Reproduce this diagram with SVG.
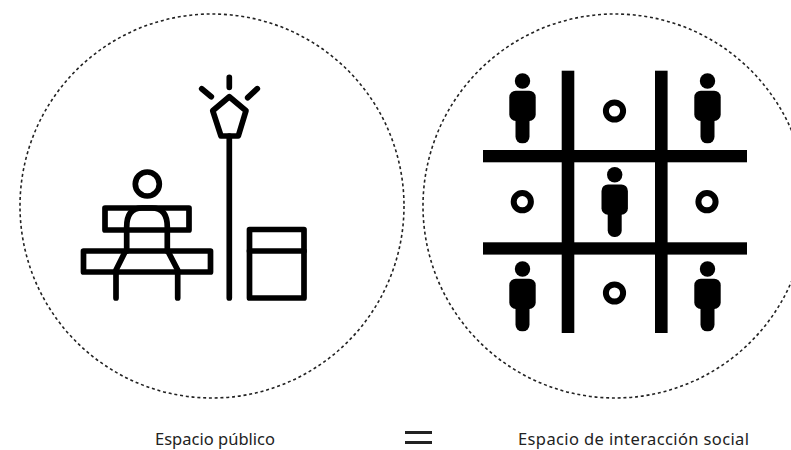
<svg xmlns="http://www.w3.org/2000/svg" width="791" height="450" viewBox="0 0 791 450">
<style>
.dot{fill:none;stroke:#222;stroke-width:1.6;stroke-dasharray:3 2.8}
.ln{fill:none;stroke:#000;stroke-width:5.7;stroke-linecap:round;stroke-linejoin:round}
.ring{fill:none;stroke:#000;stroke-width:6}
.lab{font-family:"Noto Sans","Open Sans",sans-serif;font-size:16.5px;fill:#222}
</style>
<defs>
<g id="person">
<circle cx="0" cy="0" r="7.7"/>
<rect x="-13.2" y="9.7" width="26.4" height="30.3" rx="6.5"/>
<rect x="-7" y="25" width="14" height="37.3" rx="6.5"/>
</g>
</defs>
<rect width="791" height="450" fill="#fff"/>
<g id="circulo-publico"><circle class="dot" cx="212" cy="206" r="192"/></g>
<g id="circulo-social"><circle class="dot" cx="615" cy="206" r="192"/></g>
<g id="banco">
<circle class="ln" cx="147.3" cy="184" r="12"/>
<rect class="ln" x="105" y="208" width="84" height="22"/>
<rect class="ln" x="83.5" y="251" width="127" height="21"/>
<path class="ln" d="M126.7 251V227Q126.7 208 142 208H152Q167.3 208 167.3 227V251"/>
<path class="ln" d="M125 252L116 270V298M168.3 252L177.7 270V298"/>
</g>
<g id="farol">
<path class="ln" d="M229.3 96.7L246 110.7L238.3 136H221L212.7 110.7Z"/>
<path class="ln" d="M229.3 136V298M229.3 77.3V87.3M201.7 88.7L211.3 96.7M257.3 88.7L247.7 97.7"/>
</g>
<g id="papelera">
<rect class="ln" x="249.5" y="229.5" width="54.5" height="68.5"/>
<path class="ln" d="M249.5 251H304"/>
</g>
<g id="retícula">
<rect x="561.7" y="70.7" width="12.6" height="262.3"/>
<rect x="655" y="70.7" width="12.6" height="262.3"/>
<rect x="483" y="150" width="264" height="12.3"/>
<rect x="483" y="242.3" width="264" height="12.3"/>
</g>
<g id="personas">
<use href="#person" x="522.5" y="81"/>
<use href="#person" x="707.5" y="81"/>
<use href="#person" x="614.7" y="174.7"/>
<use href="#person" x="522.5" y="269"/>
<use href="#person" x="707.5" y="269"/>
</g>
<g id="puntos">
<circle class="ring" cx="614.5" cy="111" r="8.6"/>
<circle class="ring" cx="522.3" cy="201.7" r="8.6"/>
<circle class="ring" cx="707" cy="201.7" r="8.6"/>
<circle class="ring" cx="614.5" cy="293" r="8.6"/>
</g>
<g id="etiqueta-publico"><text class="lab" x="155" y="445" textLength="120">Espacio público</text></g>
<g id="igual"><rect x="405" y="431" width="27" height="3" fill="#222"/><rect x="405" y="441" width="27" height="3" fill="#222"/></g>
<g id="etiqueta-social"><text class="lab" x="518" y="445" textLength="231">Espacio de interacción social</text></g>
</svg>
